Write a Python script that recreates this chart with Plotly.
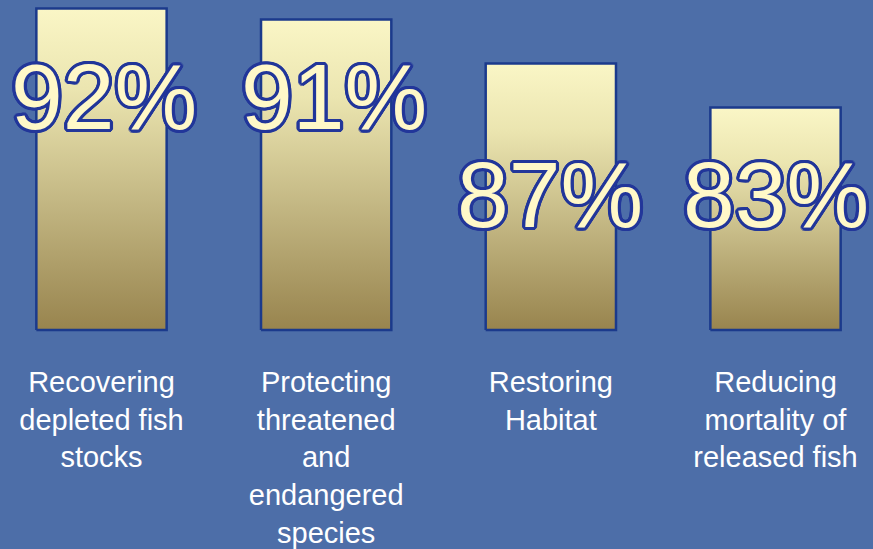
import math
import plotly.graph_objects as go

# ---- data ----
categories = [
    "Recovering<br>depleted fish<br>stocks",
    "Protecting<br>threatened<br>and<br>endangered<br>species",
    "Restoring<br>Habitat",
    "Reducing<br>mortality of<br>released fish",
]
values = [92, 91, 87, 83]
value_labels = [f"{v}%" for v in values]

# ---- layout constants ----
W, H = 873, 549
MARGIN_B = 213
PLOT_H = H - MARGIN_B
AXIS_BASE = 62.8           # value at which bars start (axis baseline)
PX_PER_UNIT = 11.01
BASE_PX = 330              # pixel row of the baseline
Y_RANGE = [AXIS_BASE - (PLOT_H - BASE_PX) / PX_PER_UNIT,
           AXIS_BASE + BASE_PX / PX_PER_UNIT]
X_SPACING = 224.67
FIRST_PX = 101.5
X_RANGE = [-FIRST_PX / X_SPACING, (W - FIRST_PX) / X_SPACING]
HALF_W = 0.29
LABEL_Y_PX = [97.5, 97.5, 195, 195]
LABEL_X_SHIFT = [2, 8, -1, 0]

OUTLINE = "#1b3a8c"
GOLD = [[0.0, "#98844e"], [0.4, "#c3b783"], [0.75, "#ebe5b0"], [1.0, "#faf6c6"]]

fig = go.Figure()
for i, v in enumerate(values):
    xs = [i - HALF_W, i + HALF_W, i + HALF_W, i - HALF_W, i - HALF_W]
    ys = [AXIS_BASE, AXIS_BASE, v, v, AXIS_BASE]
    fig.add_trace(go.Scatter(
        x=xs, y=ys, mode="lines", fill="toself",
        fillgradient=dict(type="vertical", colorscale=GOLD),
        line=dict(color=OUTLINE, width=2.5),
        hoverinfo="skip", showlegend=False,
    ))

shadow_col = "#23379a"
offs = []
for r in (1.5, 3.3):
    for k in range(16):
        a = 2 * math.pi * k / 16
        offs.append((round(r * math.cos(a), 1), round(r * math.sin(a), 1)))
shadow = ", ".join(f"{dx}px {dy}px 0 {shadow_col}" for dx, dy in offs)

for i, txt in enumerate(value_labels):
    fig.add_annotation(
        x=i, y=1 - LABEL_Y_PX[i] / PLOT_H, xref="x", yref="paper",
        text=txt, showarrow=False, xanchor="center", yanchor="middle",
        xshift=LABEL_X_SHIFT[i],
        font=dict(family="Liberation Sans, Arial, sans-serif", size=93,
                  color="#fff8c8", shadow=shadow),
    )

fig.update_layout(
    width=W, height=H,
    margin=dict(l=0, r=0, t=0, b=MARGIN_B, pad=0, autoexpand=False),
    paper_bgcolor="#4d6ea8",
    plot_bgcolor="rgba(0,0,0,0)",
    showlegend=False,
    xaxis=dict(
        range=X_RANGE, tickmode="array", tickvals=list(range(len(categories))),
        ticktext=categories, showgrid=False, zeroline=False, showline=False,
        ticks="", ticklabelstandoff=26, fixedrange=True, automargin=False,
        tickfont=dict(family="Liberation Sans, Arial, sans-serif", size=29,
                      color="#ffffff"),
    ),
    yaxis=dict(
        range=Y_RANGE, showgrid=False, zeroline=False, showline=False,
        showticklabels=False, ticks="", fixedrange=True, automargin=False,
    ),
)

fig.write_html(
    "out.html",
    config={"displayModeBar": False},
    post_script="document.body.style.margin='0';document.body.style.overflow='hidden';",
)
